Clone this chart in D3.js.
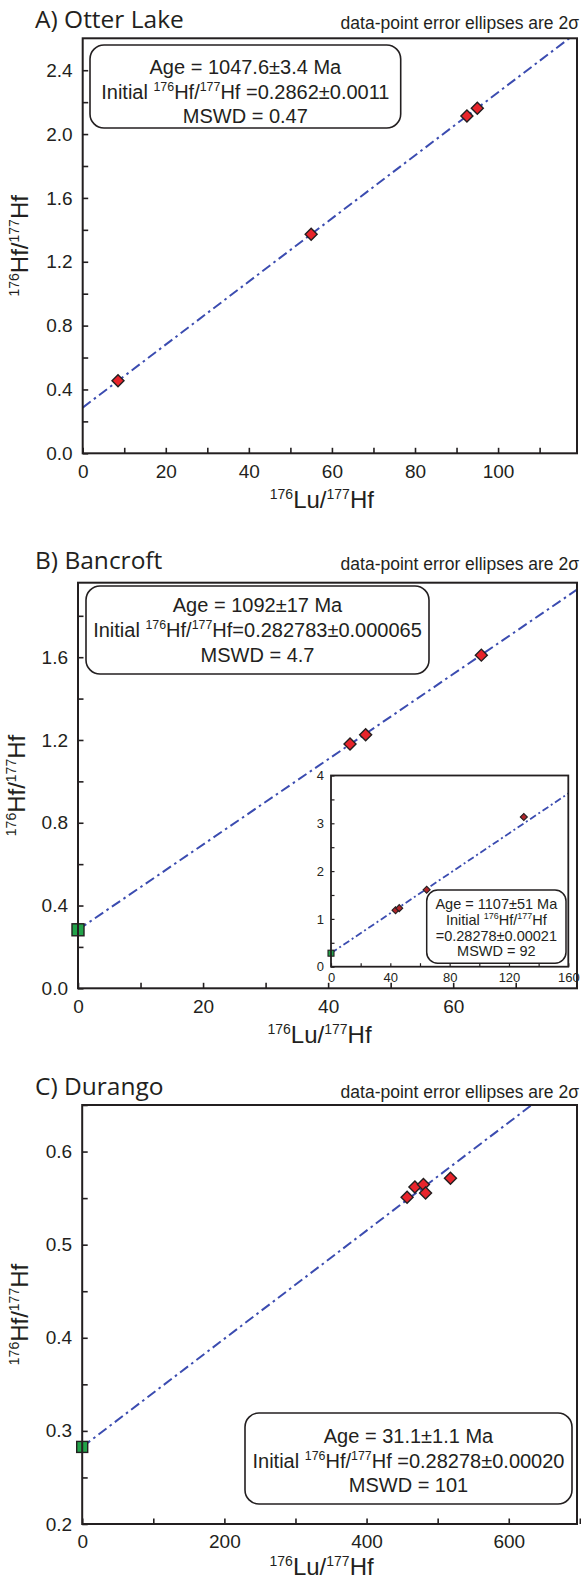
<!DOCTYPE html>
<html>
<head>
<meta charset="utf-8">
<script src="https://cdn.jsdelivr.net/npm/d3@7"></script>
<style>
  body { margin: 0; background: #fff; }
  svg text { fill: #231f20; }
</style>
</head>
<body>
<div id="chart"></div>
<script>
const LAMBDA = 1.867e-11; // 176Lu decay constant, per year

// A) Otter Lake
const otterLu = [8.5, 55, 92.5, 95];
const otterHf = [0.455, 1.372, 2.113, 2.162];
const otterAge = 1047.6;
const otterInitial = 0.2862;
const otterXTicks = [0, 20, 40, 60, 80, 100];
const otterXMinor = [10, 30, 50, 70, 90, 110];
const otterYTicks = [0, 0.4, 0.8, 1.2, 1.6, 2.0, 2.4];
const otterYMinor = [0.2, 0.6, 1.0, 1.4, 1.8, 2.2];

// B) Bancroft
const bancroftLu = [43.5, 46, 64.5];
const bancroftHf = [1.18, 1.225, 1.61];
const bancroftAge = 1092;
const bancroftInitial = 0.282783;
const bancroftXTicks = [0, 20, 40, 60];
const bancroftXMinor = [10, 30, 50, 70];
const bancroftYTicks = [0, 0.4, 0.8, 1.2, 1.6];
const bancroftYMinor = [0.2, 0.6, 1.0, 1.4, 1.8];

// B inset (includes the high-Lu grain)
const insetLu = [43.5, 46, 64.5, 130];
const insetHf = [1.18, 1.225, 1.61, 3.13];
const insetAge = 1107;
const insetInitial = 0.28278;
const insetXTicks = [0, 40, 80, 120, 160];
const insetXMinor = [20, 60, 100, 140];
const insetYTicks = [0, 1, 2, 3, 4];
const insetYMinor = [0.5, 1.5, 2.5, 3.5];

// C) Durango
const durangoLu = [457, 468, 480, 483, 518];
const durangoHf = [0.551, 0.562, 0.5645, 0.5556, 0.5713];
const durangoAge = 31.1;
const durangoInitial = 0.28278;
const durangoXTicks = [0, 200, 400, 600];
const durangoXMinor = [100, 300, 500, 700];
const durangoYTicks = [0.2, 0.3, 0.4, 0.5, 0.6];
const durangoYMinor = [0.25, 0.35, 0.45, 0.55, 0.65];

const W = 581, H = 1579;
const FONT = '"Liberation Sans", Arial, sans-serif';
const svg = d3.select('#chart').append('svg')
  .attr('width', W).attr('height', H)
  .style('font-family', FONT);

let clipId = 0;

function rich(sel, parts, size, supSize) {
  // parts: [text, isSuperscript]
  const shift = size * 0.38;
  let up = false;
  parts.forEach(([t, sup]) => {
    const ts = sel.append('tspan').text(t);
    if (sup && !up) { ts.attr('dy', -shift).attr('font-size', supSize); up = true; }
    else if (sup) { ts.attr('font-size', supSize); }
    else if (up) { ts.attr('dy', shift); up = false; }
  });
}

const luLabel = [['176', true], ['Lu/', false], ['177', true], ['Hf', false]];
const hfLabel = [['176', true], ['Hf/', false], ['177', true], ['Hf', false]];

function drawPlot(parent, c) {
  const g = parent.append('g');
  const x = d3.scaleLinear().domain(c.xDomain).range([c.left, c.right]);
  const y = d3.scaleLinear().domain(c.yDomain).range([c.bottom, c.top]);
  const id = 'clip' + (clipId++);

  g.append('clipPath').attr('id', id).append('rect')
    .attr('x', c.left).attr('y', c.top)
    .attr('width', c.right - c.left).attr('height', c.bottom - c.top);

  if (c.bg) {
    g.append('rect').attr('x', c.left).attr('y', c.top)
      .attr('width', c.right - c.left).attr('height', c.bottom - c.top)
      .attr('fill', '#fff');
  }

  const tick = c.tick;

  g.append('g').attr('transform', `translate(0,${c.bottom})`)
    .call(d3.axisBottom(x).tickValues(c.xTicks).tickSize(-tick).tickSizeOuter(0)
      .tickPadding(c.xPad).tickFormat(d3.format('d')));
  g.append('g').attr('transform', `translate(0,${c.bottom})`)
    .call(d3.axisBottom(x).tickValues(c.xMinor).tickSize(-tick).tickSizeOuter(0).tickFormat(''));
  g.append('g').attr('transform', `translate(${c.left},0)`)
    .call(d3.axisLeft(y).tickValues(c.yTicks).tickSize(-tick).tickSizeOuter(0)
      .tickPadding(c.yPad).tickFormat(c.yFormat));
  g.append('g').attr('transform', `translate(${c.left},0)`)
    .call(d3.axisLeft(y).tickValues(c.yMinor).tickSize(-tick).tickSizeOuter(0).tickFormat(''));

  g.selectAll('.domain').remove();
  g.selectAll('.tick line').attr('stroke', '#231f20').attr('stroke-width', c.tickWidth);
  g.selectAll('.tick text').attr('font-size', c.tickFont).attr('font-family', FONT)
    .attr('fill', '#231f20');

  // isochron
  const slope = Math.exp(LAMBDA * c.age * 1e6) - 1;
  const fit = d3.line().x(d => x(d)).y(d => y(c.initial + slope * d));
  g.append('path').datum([0, c.xDomain[1]])
    .attr('clip-path', `url(#${id})`)
    .attr('fill', 'none')
    .attr('stroke', '#3b4cb0')
    .attr('stroke-width', c.lineWidth)
    .attr('stroke-dasharray', c.dash)
    .attr('d', fit);

  // initial ratio marker
  if (c.square) {
    const s = c.square;
    g.append('rect')
      .attr('x', x(0) - s / 2).attr('y', y(c.initial) - s / 2)
      .attr('width', s).attr('height', s)
      .attr('fill', '#22a34a').attr('stroke', '#231f20').attr('stroke-width', c.markStroke);
  }

  // data points as diamonds
  const sym = d3.symbol().type(d3.symbolSquare).size(c.diamond * c.diamond * 2);
  g.selectAll('path.pt').data(c.lu.map((v, i) => [v, c.hf[i]])).enter()
    .append('path').attr('class', 'pt')
    .attr('transform', d => `translate(${x(d[0])},${y(d[1])}) rotate(45)`)
    .attr('d', sym)
    .attr('fill', c.pointFill)
    .attr('stroke', '#231f20')
    .attr('stroke-width', c.markStroke);

  // frame
  g.append('rect').attr('x', c.left).attr('y', c.top)
    .attr('width', c.right - c.left).attr('height', c.bottom - c.top)
    .attr('fill', 'none').attr('stroke', '#231f20').attr('stroke-width', c.frameWidth);

  return g;
}

function drawBox(g, b) {
  g.append('rect').attr('x', b.x0).attr('y', b.y0)
    .attr('width', b.x1 - b.x0).attr('height', b.y1 - b.y0)
    .attr('rx', b.rx).attr('ry', b.rx)
    .attr('fill', '#fff').attr('stroke', '#231f20').attr('stroke-width', b.sw);
  const cx = (b.x0 + b.x1) / 2;
  b.lines.forEach((parts, i) => {
    const t = g.append('text').attr('x', cx).attr('y', b.base[i])
      .attr('text-anchor', 'middle').attr('font-size', b.fs);
    rich(t, parts, b.fs, b.fs * 0.62);
  });
}

function drawPanel(p) {
  const g = svg.append('g');
  g.append('text').attr('x', 35).attr('y', p.titleY)
    .attr('font-family', '"Open Sans", Lato, sans-serif').attr('font-size', 24.5)
    .text(p.title);
  g.append('text').attr('x', 579).attr('y', p.noteY)
    .attr('text-anchor', 'end').attr('font-size', 17.5)
    .text('data-point error ellipses are 2σ');

  drawPlot(g, Object.assign({
    tick: 5.5, tickWidth: 1.6, tickFont: 19, xPad: 11, yPad: 10,
    lineWidth: 2, dash: '10,4,2.5,4', diamond: 6, markStroke: 1.4,
    pointFill: '#e8242b', frameWidth: 2
  }, p.plot));

  const xl = g.append('text').attr('x', (p.plot.left + p.plot.right) / 2 - 8)
    .attr('y', p.xLabelY).attr('text-anchor', 'middle').attr('font-size', 24);
  rich(xl, luLabel, 24, 14);

  const yc = (p.plot.top + p.plot.bottom) / 2;
  const yl = g.append('text').attr('transform', `translate(${p.yLabelX},${yc}) rotate(-90)`)
    .attr('text-anchor', 'middle').attr('font-size', 24);
  rich(yl, hfLabel, 24, 14);
  return g;
}

// ---- A) Otter Lake
const gA = drawPanel({
  title: 'A) Otter Lake', titleY: 28, noteY: 29, xLabelY: 508, yLabelX: 28,
  plot: {
    left: 82.7, right: 577, top: 38.3, bottom: 453.3,
    xDomain: [0, 119], yDomain: [0, 2.6],
    xTicks: otterXTicks, xMinor: otterXMinor, yTicks: otterYTicks, yMinor: otterYMinor,
    yFormat: d3.format('.1f'), lu: otterLu, hf: otterHf,
    age: otterAge, initial: otterInitial
  }
});
drawBox(gA, {
  x0: 90, x1: 400.7, y0: 45, y1: 128, rx: 14, sw: 1.6, fs: 20,
  base: [74, 98.5, 123],
  lines: [
    [['Age = 1047.6±3.4 Ma', false]],
    [['Initial ', false], ['176', true], ['Hf/', false], ['177', true], ['Hf =0.2862±0.0011', false]],
    [['MSWD = 0.47', false]]
  ]
});

// ---- B) Bancroft
const gB = drawPanel({
  title: 'B) Bancroft', titleY: 569, noteY: 570, xLabelY: 1043, yLabelX: 25,
  plot: {
    left: 78, right: 577, top: 582.7, bottom: 988.3,
    xDomain: [0, 79.8], yDomain: [0, 1.96],
    xTicks: bancroftXTicks, xMinor: bancroftXMinor, yTicks: bancroftYTicks, yMinor: bancroftYMinor,
    yFormat: d3.format('.1f'), lu: bancroftLu, hf: bancroftHf,
    age: bancroftAge, initial: bancroftInitial, square: 12
  }
});
drawBox(gB, {
  x0: 86, x1: 429, y0: 586, y1: 674, rx: 14, sw: 1.6, fs: 20,
  base: [612, 637, 662],
  lines: [
    [['Age = 1092±17 Ma', false]],
    [['Initial ', false], ['176', true], ['Hf/', false], ['177', true], ['Hf=0.282783±0.000065', false]],
    [['MSWD = 4.7', false]]
  ]
});

// inset
drawPlot(gB, {
  left: 331, right: 568.3, top: 775.5, bottom: 966.7,
  xDomain: [0, 160], yDomain: [0, 4],
  xTicks: insetXTicks, xMinor: insetXMinor, yTicks: insetYTicks, yMinor: insetYMinor,
  yFormat: d3.format('d'), lu: insetLu, hf: insetHf,
  age: insetAge, initial: insetInitial, square: 6, bg: true,
  tick: 3.5, tickWidth: 1.2, tickFont: 13, xPad: 6, yPad: 7,
  lineWidth: 1.8, dash: '7,3,2,3', diamond: 3.5, markStroke: 1.1,
  pointFill: '#b0262b', frameWidth: 1.8
});
drawBox(gB, {
  x0: 426.7, x1: 566, y0: 890, y1: 963.3, rx: 11, sw: 1.5, fs: 14.5,
  base: [909, 924.5, 940.5, 956],
  lines: [
    [['Age = 1107±51 Ma', false]],
    [['Initial ', false], ['176', true], ['Hf/', false], ['177', true], ['Hf', false]],
    [['=0.28278±0.00021', false]],
    [['MSWD = 92', false]]
  ]
});

// ---- C) Durango
const gC = drawPanel({
  title: 'C) Durango', titleY: 1095, noteY: 1098, xLabelY: 1575, yLabelX: 28,
  plot: {
    left: 82.2, right: 577, top: 1105, bottom: 1524,
    xDomain: [0, 696], yDomain: [0.2, 0.65],
    xTicks: durangoXTicks, xMinor: durangoXMinor, yTicks: durangoYTicks, yMinor: durangoYMinor,
    yFormat: d3.format('.1f'), lu: durangoLu, hf: durangoHf,
    age: durangoAge, initial: durangoInitial, square: 11
  }
});
drawBox(gC, {
  x0: 245, x1: 572, y0: 1413, y1: 1504, rx: 14, sw: 1.6, fs: 20,
  base: [1443, 1467.5, 1492],
  lines: [
    [['Age = 31.1±1.1 Ma', false]],
    [['Initial ', false], ['176', true], ['Hf/', false], ['177', true], ['Hf =0.28278±0.00020', false]],
    [['MSWD = 101', false]]
  ]
});
</script>
</body>
</html>
